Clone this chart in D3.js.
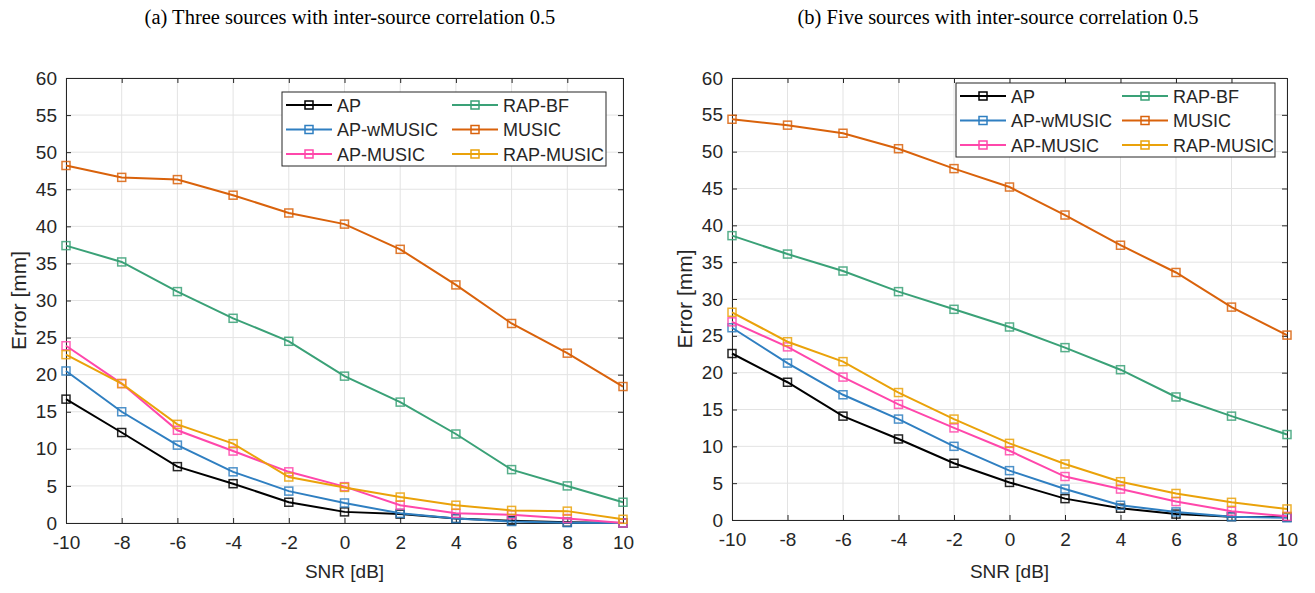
<!DOCTYPE html>
<html>
<head>
<meta charset="utf-8">
<script src="https://cdn.jsdelivr.net/npm/d3@7"></script>
<style>
  body { margin: 0; background: #fff; }
  text { font-family: "Liberation Sans", Arial, sans-serif; fill: #262626; }
  .title { font-family: "Liberation Serif", "Times New Roman", serif; fill: #000; }
</style>
</head>
<body>
<svg id="chart" width="1315" height="593"></svg>
<script>
const snr = [-10, -8, -6, -4, -2, 0, 2, 4, 6, 8, 10];
const seriesNames = ["AP", "AP-wMUSIC", "AP-MUSIC", "RAP-BF", "MUSIC", "RAP-MUSIC"];
const seriesColors = ["#000000", "#2f7fc1", "#ff47ab", "#3aa177", "#d9620b", "#eaa20a"];
const yTicks = [0, 5, 10, 15, 20, 25, 30, 35, 40, 45, 50, 55, 60];

// (a) three sources
const threeAP        = [16.7, 12.2, 7.6, 5.3, 2.8, 1.5, 1.2, 0.6, 0.3, 0.1, 0.0];
const threeAPwMUSIC  = [20.5, 15.0, 10.5, 6.9, 4.3, 2.7, 1.3, 0.6, 0.2, 0.05, 0.0];
const threeAPMUSIC   = [23.9, 18.8, 12.5, 9.7, 6.9, 4.9, 2.4, 1.3, 1.1, 0.6, 0.0];
const threeRAPBF     = [37.4, 35.2, 31.2, 27.6, 24.5, 19.8, 16.3, 12.0, 7.2, 5.0, 2.8];
const threeMUSIC     = [48.2, 46.6, 46.3, 44.2, 41.8, 40.3, 36.9, 32.1, 26.9, 22.9, 18.4];
const threeRAPMUSIC  = [22.7, 18.8, 13.3, 10.7, 6.2, 4.8, 3.5, 2.4, 1.7, 1.6, 0.5];

// (b) five sources
const fiveAP         = [22.6, 18.7, 14.1, 11.0, 7.7, 5.1, 2.9, 1.6, 0.8, 0.45, 0.4];
const fiveAPwMUSIC   = [26.1, 21.3, 17.0, 13.7, 10.0, 6.7, 4.2, 2.0, 1.1, 0.45, 0.3];
const fiveAPMUSIC    = [26.9, 23.5, 19.4, 15.7, 12.5, 9.4, 5.9, 4.2, 2.5, 1.2, 0.5];
const fiveRAPBF      = [38.6, 36.1, 33.8, 31.0, 28.6, 26.2, 23.4, 20.4, 16.7, 14.1, 11.6];
const fiveMUSIC      = [54.4, 53.6, 52.5, 50.4, 47.7, 45.2, 41.4, 37.3, 33.6, 28.9, 25.1];
const fiveRAPMUSIC   = [28.2, 24.2, 21.5, 17.3, 13.7, 10.4, 7.6, 5.2, 3.6, 2.4, 1.5];

const svg = d3.select("#chart");

function drawPanel(opts) {
  const { left, right, top, bottom, title, titleX, values, legend } = opts;
  const x = d3.scaleLinear().domain([-10, 10]).range([left, right]);
  const y = d3.scaleLinear().domain([0, 60]).range([bottom, top]);
  const g = svg.append("g");

  g.append("text").attr("class", "title")
    .attr("x", titleX).attr("y", 24)
    .attr("text-anchor", "middle").style("font-size", "20.5px")
    .text(title);

  // grid
  g.append("g").selectAll("line").data(snr).join("line")
    .attr("x1", d => x(d)).attr("x2", d => x(d))
    .attr("y1", top).attr("y2", bottom)
    .attr("stroke", "#e3e3e3").attr("stroke-width", 1);
  g.append("g").selectAll("line").data(yTicks).join("line")
    .attr("x1", left).attr("x2", right)
    .attr("y1", d => y(d)).attr("y2", d => y(d))
    .attr("stroke", "#e3e3e3").attr("stroke-width", 1);

  // axes
  const xAxis = g.append("g").attr("transform", `translate(0,${bottom})`)
    .call(d3.axisBottom(x).tickValues(snr).tickSize(-5).tickPadding(13).tickFormat(d => String(d)));
  const yAxis = g.append("g").attr("transform", `translate(${left},0)`)
    .call(d3.axisLeft(y).tickValues(yTicks).tickSize(-5).tickPadding(9));
  const xTop = g.append("g").attr("transform", `translate(0,${top})`)
    .call(d3.axisTop(x).tickValues(snr).tickSize(-5).tickFormat(""));
  const yRight = g.append("g").attr("transform", `translate(${right},0)`)
    .call(d3.axisRight(y).tickValues(yTicks).tickSize(-5).tickFormat(""));
  [xAxis, yAxis, xTop, yRight].forEach(a => {
    a.selectAll("path").attr("stroke", "#262626").attr("stroke-width", 1);
    a.selectAll("line").attr("stroke", "#262626");
    a.selectAll("text").style("font-size", "19px").style("font-family", "Liberation Sans, Arial, sans-serif").attr("fill", "#262626");
  });

  g.append("text")
    .attr("x", (left + right) / 2).attr("y", 578)
    .attr("text-anchor", "middle").style("font-size", "19px")
    .text("SNR [dB]");
  g.append("text")
    .attr("transform", `translate(${left - 40},${(top + bottom) / 2}) rotate(-90)`)
    .attr("text-anchor", "middle").style("font-size", "21px")
    .text("Error [mm]");

  const line = d3.line().x((d, i) => x(snr[i])).y(d => y(d));

  values.forEach((vals, k) => {
    const s = g.append("g");
    s.append("path").datum(vals)
      .attr("d", line).attr("fill", "none")
      .attr("stroke", seriesColors[k]).attr("stroke-width", 2);
    s.selectAll("rect").data(vals).join("rect")
      .attr("x", (d, i) => x(snr[i]) - 4).attr("y", d => y(d) - 4)
      .attr("width", 8).attr("height", 8)
      .attr("fill", "none").attr("stroke", seriesColors[k])
      .attr("stroke-width", 1.5).attr("stroke-opacity", 0.85);
  });

  // legend
  const lg = g.append("g").attr("transform", `translate(${legend.x},${legend.y})`);
  lg.append("rect").attr("width", legend.w).attr("height", legend.h)
    .attr("fill", "#fff").attr("stroke", "#262626").attr("stroke-width", 1);
  seriesNames.forEach((name, k) => {
    const col = Math.floor(k / 3), row = k % 3;
    const lx = 4 + col * legend.colW;
    const ly = 13 + row * 24.5;
    lg.append("line").attr("x1", lx).attr("x2", lx + 46)
      .attr("y1", ly).attr("y2", ly)
      .attr("stroke", seriesColors[k]).attr("stroke-width", 2);
    lg.append("rect").attr("x", lx + 23 - 4).attr("y", ly - 4)
      .attr("width", 8).attr("height", 8).attr("fill", "none")
      .attr("stroke", seriesColors[k]).attr("stroke-width", 1.5);
    lg.append("text").attr("x", lx + 51).attr("y", ly + 6.5)
      .style("font-size", "18px").attr("fill", "#000").text(name);
  });
}

drawPanel({
  left: 66, right: 623, top: 78, bottom: 523,
  title: "(a) Three sources with inter-source correlation 0.5", titleX: 350,
  values: [threeAP, threeAPwMUSIC, threeAPMUSIC, threeRAPBF, threeMUSIC, threeRAPMUSIC],
  legend: { x: 282, y: 92, w: 324, h: 74, colW: 166 }
});

drawPanel({
  left: 732, right: 1287, top: 78, bottom: 520,
  title: "(b) Five sources with inter-source correlation 0.5", titleX: 998,
  values: [fiveAP, fiveAPwMUSIC, fiveAPMUSIC, fiveRAPBF, fiveMUSIC, fiveRAPMUSIC],
  legend: { x: 956, y: 83, w: 319, h: 74, colW: 162 }
});
</script>
</body>
</html>
